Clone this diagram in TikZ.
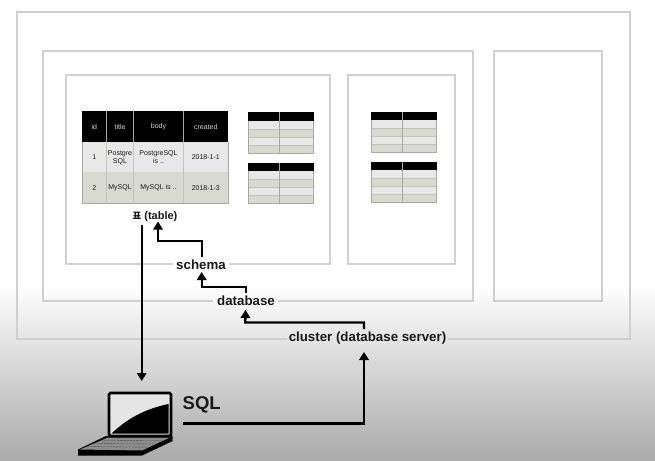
\documentclass[tikz,border=0pt]{standalone}
\usepackage{fontspec}
\setmainfont{Liberation Sans}
\newfontfamily\krfont{Noto Sans CJK KR}
\usetikzlibrary{arrows.meta,calc}
\definecolor{frameg}{HTML}{D0D0D0}
\definecolor{rowa}{HTML}{E8E8E8}
\definecolor{rowb}{HTML}{D9DACF}
\definecolor{gridg}{HTML}{A8A8A4}
\definecolor{gridl}{HTML}{C4C4BE}
\definecolor{txt}{HTML}{1A1A1A}
\tikzset{
  frame/.style={draw=frameg,line width=2.7pt},
  lbl/.style={font=\bfseries\fontsize{13.3}{15}\selectfont,text=txt,inner sep=0pt},
  cell/.style={font=\fontsize{7}{8}\selectfont,text=txt,align=center,inner sep=0pt},
  headcell/.style={font=\fontsize{7}{8}\selectfont,text=white!85!black,inner sep=0pt},
  conn/.style={draw=black,line width=2.3pt,-{Triangle[length=8pt,width=9.5pt]}},
}
\newcommand{\minitable}[2]{%
  \begin{scope}[shift={(#1,#2)}]
    \fill[rowa] (0,8.5) rectangle (65.5,17);
    \fill[rowb] (0,17) rectangle (65.5,25);
    \fill[rowa] (0,25) rectangle (65.5,33);
    \fill[rowb] (0,33) rectangle (65.5,41);
    \fill[black] (0,0) rectangle (65.5,8.5);
    \draw[gridl,line width=.5pt] (0,17) -- (65.5,17) (0,25) -- (65.5,25) (0,33) -- (65.5,33);
    \draw[gridg,line width=.6pt] (31,0) -- (31,41);
    \draw[gridg,line width=.8pt] (0,8.5) -- (0,41) -- (65.5,41) -- (65.5,8.5);
  \end{scope}}
\begin{document}
\begin{tikzpicture}[x=1pt,y=-1pt]
\useasboundingbox (0,0) rectangle (655,460);
\fill[white] (0,0) rectangle (655,460);
\shade[top color=white,bottom color=black!33] (0,285) rectangle (655,460);
% frames, broken where the labels sit
\draw[frame] (173,264) -| (66,75) -| (330,264) -- (229,264);
\draw[frame] (348,75) rectangle (455,264);
\draw[frame] (213,301) -| (43,51) -| (473,301) -- (278,301);
\draw[frame] (494,51) rectangle (602,301);
\draw[frame] (287,339) -| (17,12) -| (630,339) -- (448,339);
% main table
\fill[black] (82,111) rectangle (228,142);
\fill[rowa] (82,142) rectangle (228,172);
\fill[rowb] (82,172) rectangle (228,203.5);
\draw[gridl,line width=.6pt] (106.5,142) -- (106.5,203.5) (133.5,142) -- (133.5,203.5) (183.5,142) -- (183.5,203.5);
\draw[gridg,line width=.6pt] (106.5,111) -- (106.5,142) (133.5,111) -- (133.5,142) (183.5,111) -- (183.5,142);
\draw[gridg,line width=.7pt] (82,142) -- (82,203.5) -- (228,203.5) -- (228,142);
\foreach \x/\t [count=\i] in {94.3/id,120/title,158.5/body,205.8/created}
  \node[headcell] (h\i) at (\x,127) {\t};
\node[cell] (a1) at (94.3,157) {1};
\node[cell] (a2) at (120,157.5) {Postgre\\SQL};
\node[cell] (a3) at (158.5,157) {PostgreSQL\\is ..};
\node[cell] (a4) at (205.8,157) {2018-1-1};
\node[cell] (b1) at (94.3,188) {2};
\node[cell] (b2) at (120,188) {MySQL};
\node[cell] (b3) at (158.5,188) {MySQL is ..};
\node[cell] (b4) at (205.8,188) {2018-1-3};
% small tables
\minitable{248.3}{112}
\minitable{248.3}{162.5}
\minitable{371}{111.5}
\minitable{371}{161.5}
% labels
\node[lbl,font=\bfseries\fontsize{11}{12}\selectfont] (tablelbl) at (155,216.5) {{\krfont\fontsize{9.5}{12}\selectfont 표} (table)};
\node[lbl] (schema) at (201,264.5) {schema};
\node[lbl] (database) at (246,301) {database};
\node[lbl] (cluster) at (367.5,338) {cluster (database server)};
\node[lbl,font=\bfseries\fontsize{18.5}{20}\selectfont,anchor=west] (sql) at (182.5,405) {SQL};
% laptop
\fill[black] (78,449.5) -- (106,436) -- (172.7,436) -- (172.7,441) -- (142,455.5) -- (78,455.5) -- cycle;
\fill[black!45] (80,449.5) -- (108,437.5) -- (170,437.5) -- (142,450.5) -- cycle;
\foreach \t in {0.25,0.5,0.75}
  \draw[black!70,line width=.35pt,dash pattern=on 2.4pt off .8pt] ($(80,449.5)!\t!(108,437.5)$) -- ($(142,450.5)!\t!(170,437.5)$);
\fill[black!10] (109,393) rectangle (171,436);
\draw[black,line width=2.6pt,rounded corners=1.5pt] (109,393) rectangle (171,436);
\fill[black] (111.5,433.5) .. controls (128,418) and (145,409) .. (168.5,404) -- (168.5,433.5) -- cycle;
\node[minimum width=64pt,minimum height=62pt,inner sep=0pt] (laptop) at (125,424) {};
% connectors
\coordinate (sqlstart) at (183,423.5);
\coordinate (tableout) at (141.7,225);
\coordinate (tablein) at (158,221.5);
\coordinate (clusterup) at (364,329);
\coordinate (clusterin) at (364,352);
\coordinate (dbout) at (246,293);
\coordinate (dbin) at (245.5,310);
\draw[conn] (schema.north) ++(1,-2.5) |- (158,241) -- (tablein);
\draw[conn] (dbout) |- (201.7,287) -- (201.7,272);
\draw[conn] (clusterup) |- (245.3,322.5) -- (dbin);
\draw[conn] (tableout) -- (141.7,381);
\draw[conn] (sqlstart) -| (clusterin);
\end{tikzpicture}
\end{document}
